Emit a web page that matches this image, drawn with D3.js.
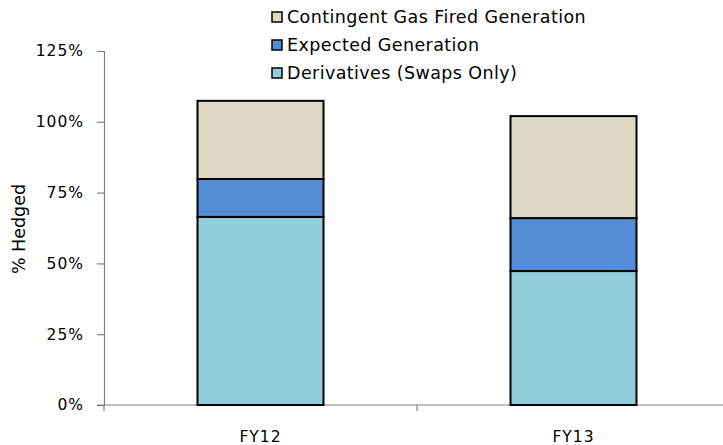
<!DOCTYPE html>
<html>
<head>
<meta charset="utf-8">
<script src="https://cdn.jsdelivr.net/npm/d3@7"></script>
<style>
  body { margin: 0; background: #fff; }
  text { font-family: "DejaVu Sans", Verdana, sans-serif; fill: #000; }
</style>
</head>
<body>
<svg id="chart" width="723" height="445"></svg>
<script>
// Dados.
const categorias = ['FY12', 'FY13'];
const derivativos = [66.4, 47.3];
const geracaoEsperada = [13.4, 18.7];
const geracaoContingente = [27.6, 36.0];
const ticksY = [0, 25, 50, 75, 100, 125];

const series = [
    { nome: 'Derivatives (Swaps Only)', valores: derivativos, cor: '#92cddc' },
    { nome: 'Expected Generation', valores: geracaoEsperada, cor: '#538dd5' },
    { nome: 'Contingent Gas Fired Generation', valores: geracaoContingente, cor: '#ddd9c4' }
];

const svg = d3.select('#chart');
const eixoX0 = 104, eixoX1 = 730;
const topo = 51, base = 405;

// Uma banda por categoria; a barra ocupa ~40% da banda, centrada.
const x = d3.scaleBand().domain(categorias).range([eixoX0, eixoX1]);
const larguraBarra = 126;
const centro = c => x(c) + x.bandwidth() / 2;

const y = d3.scaleLinear().domain([0, 125]).range([base, topo]);

// Eixo Y
const gy = svg.append('g')
    .attr('transform', `translate(${eixoX0},0)`)
    .call(d3.axisLeft(y).tickValues(ticksY).tickSize(7).tickPadding(13).tickFormat(d => d + '%'));
gy.selectAll('path, line').attr('stroke', '#808080').attr('stroke-width', 1.2);
gy.selectAll('text')
    .style('font-size', '15.5px').style('letter-spacing', '1px')
    .attr('fill', '#000');

// Eixo X (marcas nas divisões das categorias)
const gx = svg.append('g').attr('transform', `translate(0,${base})`);
gx.append('line').attr('x1', eixoX0 - 7).attr('x2', eixoX1).attr('stroke', '#808080').attr('stroke-width', 1.2);
const divisoes = categorias.map(c => x(c)).concat([eixoX1]);
gx.selectAll('.div').data(divisoes).enter().append('line')
    .attr('x1', d => d).attr('x2', d => d)
    .attr('y1', 0).attr('y2', 6).attr('stroke', '#808080').attr('stroke-width', 1.2);
gx.selectAll('.rotulo').data(categorias).enter().append('text')
    .attr('x', d => centro(d)).attr('y', 37)
    .attr('text-anchor', 'middle')
    .style('font-size', '15.5px').style('letter-spacing', '1px')
    .text(d => d);

// Barras empilhadas
const pilha = d3.stack().keys(d3.range(series.length))
    .value((c, k) => series[k].valores[categorias.indexOf(c)])(categorias);

pilha.forEach((camada, k) => {
    svg.append('g').selectAll('rect').data(camada).enter().append('rect')
        .attr('x', d => centro(d.data) - larguraBarra / 2)
        .attr('width', larguraBarra)
        .attr('y', d => y(d[1]))
        .attr('height', d => y(d[0]) - y(d[1]))
        .attr('fill', series[k].cor)
        .attr('stroke', '#000')
        .attr('stroke-width', 2);
});

// Título do eixo Y
svg.append('text')
    .attr('transform', 'translate(25,229) rotate(-90)')
    .attr('text-anchor', 'middle')
    .style('font-size', '17.5px')
    .text('% Hedged');

// Legenda (ordem invertida, como no original)
const legenda = svg.append('g');
series.slice().reverse().forEach((s, i) => {
    const yl = 17 + i * 28;
    legenda.append('rect')
        .attr('x', 272).attr('y', yl - 5).attr('width', 10).attr('height', 10)
        .attr('fill', s.cor).attr('stroke', '#000').attr('stroke-width', 1.5);
    legenda.append('text')
        .attr('x', 287).attr('y', yl).attr('dy', '0.35em')
        .style('font-size', '17.5px').style('letter-spacing', '0.4px')
        .text(s.nome);
});
</script>
</body>
</html>
